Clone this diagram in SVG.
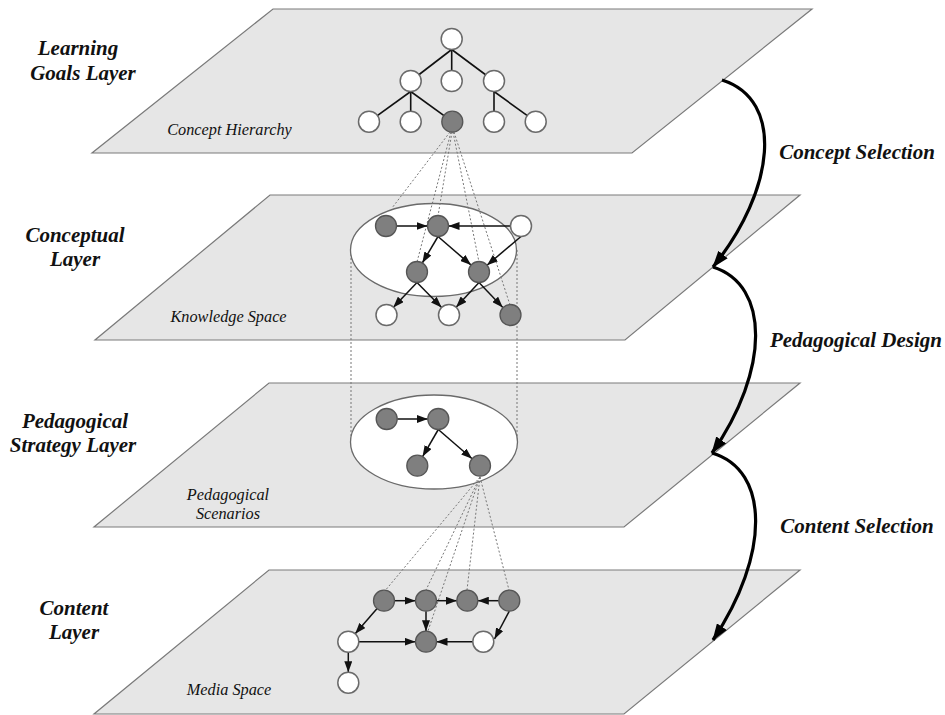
<svg xmlns="http://www.w3.org/2000/svg" width="945" height="715" viewBox="0 0 945 715">
<defs>
<style>
.plane{fill:#e6e6e6;stroke:#7a7a7a;stroke-width:1.2}
.ell{fill:#fff;stroke:#6a6a6a;stroke-width:1.3}
.w{fill:#fff;stroke:#6a6a6a;stroke-width:1.5}
.g{fill:#7f7f7f;stroke:#555;stroke-width:1.3}
.dot{fill:none;stroke:#777;stroke-width:1;stroke-dasharray:2 2}
.tree{fill:none;stroke:#111;stroke-width:1.6}
.edge{fill:none;stroke:#111;stroke-width:1.5;marker-end:url(#ah)}
.flow{fill:none;stroke:#000;stroke-width:3.2;marker-end:url(#big)}
.title{font-family:"Liberation Serif","Times New Roman",serif;font-weight:bold;font-style:italic;font-size:21px;fill:#111;text-anchor:middle}
.sub{font-family:"Liberation Serif","Times New Roman",serif;font-style:italic;font-size:16.3px;fill:#111;text-anchor:middle}
</style>
<marker id="ah" viewBox="0 0 11 8" refX="11" refY="4" markerWidth="11" markerHeight="8" markerUnits="userSpaceOnUse" orient="auto"><path d="M0,0 L11,4 L0,8 z" fill="#111"/></marker>
<marker id="big" viewBox="0 0 17 12" refX="16" refY="6" markerWidth="17" markerHeight="12" markerUnits="userSpaceOnUse" orient="auto"><path d="M0,0 L17,6 L0,12 z" fill="#000"/></marker>
</defs>

<g id="planes">
<polygon id="plane-goals" class="plane" points="273,9 812,9 632,153 92,153"/>
<polygon id="plane-conceptual" class="plane" points="270,195 800,195 625,340 95,340"/>
<polygon id="plane-pedagogical" class="plane" points="269,383 800,383 624,527 94,527"/>
<polygon id="plane-content" class="plane" points="269,570 800,570 624,714 94,714"/>
</g>

<g id="connectors">
<g id="projection-lines">
<line class="dot" x1="351" y1="250" x2="351" y2="442"/>
<line class="dot" x1="517" y1="250" x2="517" y2="442"/>
</g>
<g id="ellipses">
<ellipse id="knowledge-ellipse" class="ell" cx="433.5" cy="250" rx="83" ry="46.5"/>
<ellipse id="scenario-ellipse" class="ell" cx="434" cy="442" rx="83.5" ry="47"/>
</g>
<g id="fan-lines">
<line class="dot" x1="450" y1="132" x2="392" y2="208"/>
<line class="dot" x1="452" y1="132" x2="438" y2="216"/>
<line class="dot" x1="451" y1="132" x2="417" y2="262"/>
<line class="dot" x1="453" y1="132" x2="479" y2="262"/>
<line class="dot" x1="454" y1="132" x2="510" y2="305"/>
<line class="dot" x1="480" y1="477" x2="386.5" y2="589"/>
<line class="dot" x1="480" y1="477" x2="426" y2="590"/>
<line class="dot" x1="480" y1="477" x2="428" y2="631"/>
<line class="dot" x1="480" y1="477" x2="467" y2="590"/>
<line class="dot" x1="480" y1="477" x2="509" y2="590"/>
</g>
<g id="tree-edges">
<line class="tree" x1="451.7" y1="49.5" x2="410.7" y2="81"/>
<line class="tree" x1="451.7" y1="49.5" x2="451.7" y2="81"/>
<line class="tree" x1="451.7" y1="49.5" x2="494" y2="81"/>
<line class="tree" x1="410.7" y1="91.5" x2="369" y2="121.7"/>
<line class="tree" x1="410.7" y1="91.5" x2="410.7" y2="121.7"/>
<line class="tree" x1="410.7" y1="91.5" x2="452.3" y2="121.7"/>
<line class="tree" x1="494" y1="91.5" x2="494" y2="121.7"/>
<line class="tree" x1="494" y1="91.5" x2="535.7" y2="121.7"/>
</g>
<g id="conceptual-edges">
<line class="edge" x1="396.5" y1="226" x2="427.5" y2="226"/>
<line class="edge" x1="510.5" y1="226" x2="448.5" y2="226"/>
<line class="edge" x1="438" y1="236.5" x2="422.3" y2="263"/>
<line class="edge" x1="438" y1="236.5" x2="471.1" y2="265.1"/>
<line class="edge" x1="521" y1="236.5" x2="487" y2="265.2"/>
<line class="edge" x1="417" y1="282.5" x2="393.2" y2="307.4"/>
<line class="edge" x1="417" y1="282.5" x2="441.6" y2="307.5"/>
<line class="edge" x1="479" y1="282.5" x2="456.1" y2="307.3"/>
<line class="edge" x1="479" y1="282.5" x2="502.8" y2="307.4"/>
</g>
<g id="pedagogical-edges">
<line class="edge" x1="397.2" y1="419" x2="427.8" y2="419"/>
<line class="edge" x1="438.3" y1="429.5" x2="422.6" y2="456.6"/>
<line class="edge" x1="438.3" y1="429.5" x2="472.1" y2="458.8"/>
</g>
<g id="content-edges">
<line class="edge" x1="394.5" y1="600.7" x2="415.5" y2="600.7"/>
<line class="edge" x1="436.5" y1="600.7" x2="456.8" y2="600.7"/>
<line class="edge" x1="498.8" y1="600.7" x2="477.8" y2="600.7"/>
<line class="edge" x1="377.1" y1="608.6" x2="355.2" y2="633.8"/>
<line class="edge" x1="426" y1="611.2" x2="426" y2="631.2"/>
<line class="edge" x1="358.8" y1="641.7" x2="415.5" y2="641.7"/>
<line class="edge" x1="472.8" y1="641.7" x2="436.5" y2="641.7"/>
<line class="edge" x1="509.3" y1="611.2" x2="494.5" y2="639"/>
<line class="edge" x1="348.3" y1="652.2" x2="348.3" y2="672.2"/>
</g>
<g id="flow-arrows">
<path class="flow" d="M722,80 C785,100 775,190 713,267"/>
<path class="flow" d="M713,267 C770,285 770,370 712,453"/>
<path class="flow" d="M712,453 C770,470 770,555 713,640"/>
</g>
</g>

<g id="tree-nodes">
<g id="t-root"><circle class="w" cx="451.7" cy="39" r="10.5"/></g>
<g id="t-a"><circle class="w" cx="410.7" cy="81" r="10.5"/></g>
<g id="t-b"><circle class="w" cx="451.7" cy="81" r="10.5"/></g>
<g id="t-c"><circle class="w" cx="494" cy="81" r="10.5"/></g>
<g id="t-a1"><circle class="w" cx="369" cy="121.7" r="10.5"/></g>
<g id="t-a2"><circle class="w" cx="410.7" cy="121.7" r="10.5"/></g>
<g id="t-a3"><circle class="g" cx="452.3" cy="121.7" r="10.5"/></g>
<g id="t-c1"><circle class="w" cx="494" cy="121.7" r="10.5"/></g>
<g id="t-c2"><circle class="w" cx="535.7" cy="121.7" r="10.5"/></g>
</g>

<g id="knowledge-nodes">
<g id="k-a"><circle class="g" cx="386" cy="226" r="10.5"/></g>
<g id="k-b"><circle class="g" cx="438" cy="226" r="10.5"/></g>
<g id="k-c"><circle class="w" cx="521" cy="226" r="10.5"/></g>
<g id="k-d"><circle class="g" cx="417" cy="272" r="10.5"/></g>
<g id="k-e"><circle class="g" cx="479" cy="272" r="10.5"/></g>
<g id="k-f"><circle class="w" cx="386.5" cy="315" r="10.5"/></g>
<g id="k-g"><circle class="w" cx="449" cy="315" r="10.5"/></g>
<g id="k-h"><circle class="g" cx="510.5" cy="315" r="10.5"/></g>
</g>

<g id="scenario-nodes">
<g id="p-a"><circle class="g" cx="386.7" cy="419" r="10.5"/></g>
<g id="p-b"><circle class="g" cx="438.3" cy="419" r="10.5"/></g>
<g id="p-c"><circle class="g" cx="417.3" cy="465.7" r="10.5"/></g>
<g id="p-d"><circle class="g" cx="480" cy="465.7" r="10.5"/></g>
</g>

<g id="media-nodes">
<g id="m-q1"><circle class="g" cx="384" cy="600.7" r="10.5"/></g>
<g id="m-q2"><circle class="g" cx="426" cy="600.7" r="10.5"/></g>
<g id="m-q3"><circle class="g" cx="467.3" cy="600.7" r="10.5"/></g>
<g id="m-q4"><circle class="g" cx="509.3" cy="600.7" r="10.5"/></g>
<g id="m-r1"><circle class="w" cx="348.3" cy="641.7" r="10.5"/></g>
<g id="m-r2"><circle class="g" cx="426" cy="641.7" r="10.5"/></g>
<g id="m-r3"><circle class="w" cx="483.3" cy="641.7" r="10.5"/></g>
<g id="m-s1"><circle class="w" cx="348.3" cy="682.7" r="10.5"/></g>
</g>

<g id="labels">
<text class="title" x="78" y="55">Learning</text>
<text class="title" x="83" y="80">Goals Layer</text>
<text class="title" x="75" y="241.5">Conceptual</text>
<text class="title" x="75" y="266">Layer</text>
<text class="title" x="75" y="428">Pedagogical</text>
<text class="title" x="73" y="452">Strategy Layer</text>
<text class="title" x="74" y="615">Content</text>
<text class="title" x="74" y="639">Layer</text>
<text class="title" x="857" y="159">Concept Selection</text>
<text class="title" x="856" y="347">Pedagogical Design</text>
<text class="title" x="857" y="533">Content Selection</text>
<text class="sub" x="229.5" y="135">Concept Hierarchy</text>
<text class="sub" x="228.5" y="322">Knowledge Space</text>
<text class="sub" x="228" y="500">Pedagogical</text>
<text class="sub" x="228" y="519">Scenarios</text>
<text class="sub" x="229" y="695">Media Space</text>
</g>
</svg>
